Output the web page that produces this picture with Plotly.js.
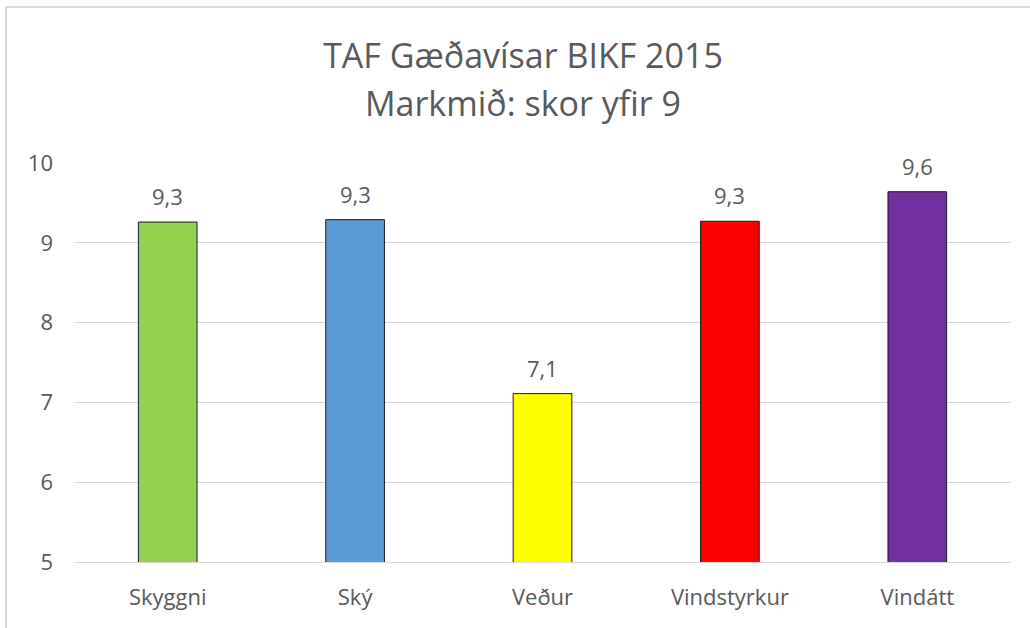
<!DOCTYPE html>
<html>
<head>
<meta charset="utf-8">
<script src="https://cdn.plot.ly/plotly-3.0.1.min.js"></script>
<style>
  html, body { margin: 0; padding: 0; background: #fff; }
  #wrap { position: relative; width: 1030px; height: 628px; }
  #chart { width: 1030px; height: 628px; }
  #frame { position: absolute; left: 5px; top: 6px; right: -10px; bottom: -10px;
           border-left: 2px solid #d9d9d9; border-top: 2px solid #d9d9d9; pointer-events: none; }
</style>
</head>
<body>
<div id="wrap">
  <div id="chart"></div>
  <div id="frame"></div>
</div>
<script>
const categories = ["Skyggni", "Ský", "Veður", "Vindstyrkur", "Vindátt"];
const values = [9.26, 9.29, 7.11, 9.27, 9.64];
const barColors = ["#92D050", "#5B9BD5", "#FFFF00", "#FF0000", "#7030A0"];
const yTicks = [5, 6, 7, 8, 9, 10];
const titleLine1 = "TAF Gæðavísar BIKF 2015";
const titleLine2 = "Markmið: skor yfir 9";

const fmt = v => v.toFixed(1).replace(".", ",");
const FONT = "'Open Sans', sans-serif";
const GREY = "#595959";

const trace = {
  type: "bar",
  x: categories,
  y: values,
  base: 0,
  width: categories.map(() => 0.313),
  marker: { color: barColors, line: { color: "#1a1a1a", width: 1 } },
  hoverinfo: "skip"
};

const annotations = categories.map((c, i) => ({
  x: c, y: values[i], xref: "x", yref: "y",
  text: fmt(values[i]), showarrow: false,
  yanchor: "bottom", yshift: 9,
  font: { family: FONT, size: 22, color: GREY }
}));
annotations.push({
  xref: "paper", yref: "paper", x: 0.479, y: 1, xanchor: "center", yanchor: "bottom",
  yshift: 35, text: titleLine2, showarrow: false,
  font: { family: FONT, size: 34, color: GREY }
});

const layout = {
  width: 1030, height: 628,
  margin: { l: 74, r: 19, t: 163, b: 66 },
  paper_bgcolor: "#ffffff", plot_bgcolor: "#ffffff",
  title: {
    text: titleLine1,
    font: { family: FONT, size: 34, color: GREY },
    x: 523 / 1030, xanchor: "center", xref: "container",
    y: 1 - 56 / 628, yanchor: "middle", yref: "container"
  },
  showlegend: false,
  bargap: 0.687,
  xaxis: {
    type: "category",
    showgrid: false, showline: true, linecolor: "#d9d9d9", linewidth: 1,
    ticks: "", ticklabelstandoff: 16,
    tickfont: { family: FONT, size: 22, color: GREY },
    fixedrange: true
  },
  yaxis: {
    range: [5, 10],
    tickvals: yTicks, ticktext: yTicks.map(String),
    showgrid: true, gridcolor: "#d9d9d9", gridwidth: 1,
    zeroline: false, showline: false, ticks: "",
    ticklabelstandoff: 20,
    tickfont: { family: FONT, size: 22, color: GREY },
    fixedrange: true
  },
  annotations: annotations
};

Plotly.newPlot("chart", [trace], layout, { displayModeBar: false, staticPlot: true });
</script>
</body>
</html>
